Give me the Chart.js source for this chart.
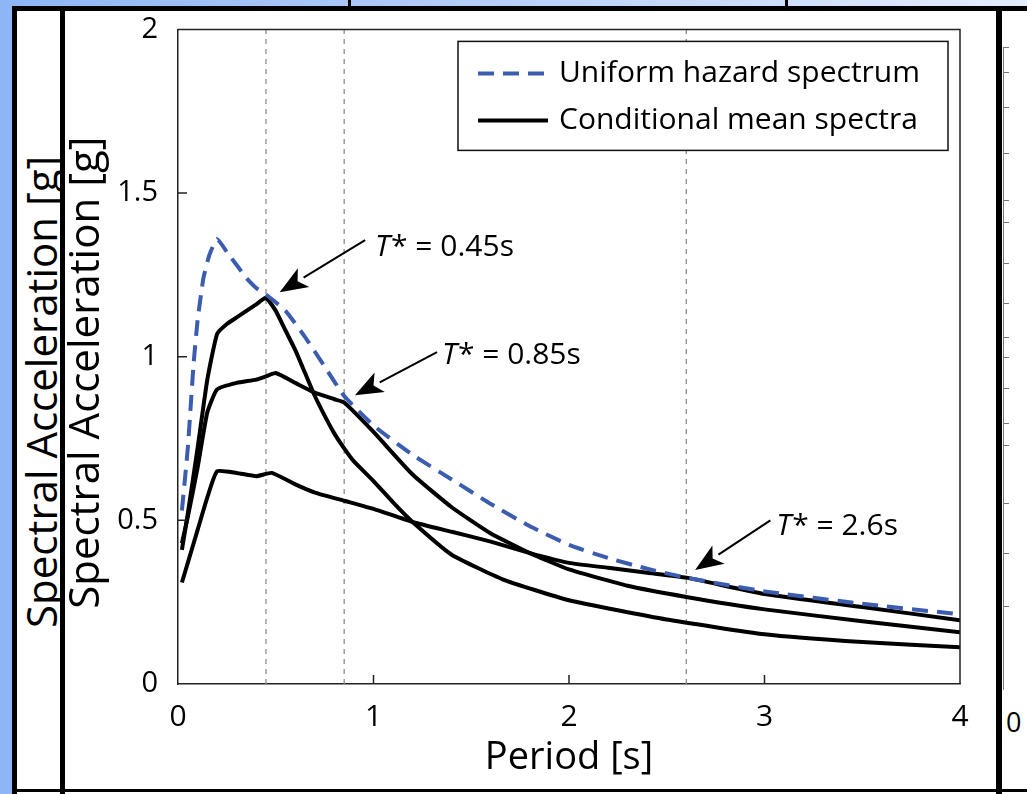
<!DOCTYPE html>
<html>
<head>
<meta charset="utf-8">
<script src="https://cdn.jsdelivr.net/npm/chart.js@4.4.1/dist/chart.umd.min.js"></script>
<style>
  body { margin: 0; width: 1027px; height: 794px; position: relative; overflow: hidden;
         background: linear-gradient(to right, #8db6f7 0%, #b4cdf9 45%, #e4edfc 100%);
         font-family: "Open Sans", sans-serif; }
  .blk { position: absolute; background: #000; }
  #panel { position: absolute; left: 12px; top: 8px; right: 0; bottom: 0; background: #fff; }
  #ghost { position: absolute; left: 17px; top: 11px; width: 43px; height: 778px; overflow: hidden; }
  #ghost span { position: absolute; left: 3px; top: 617px; white-space: nowrap; font-size: 42px;
                line-height: 1; transform-origin: 0 0; transform: rotate(-90deg); color: #000; }
  #nextAxis { position: absolute; left: 1003px; top: 47px; width: 1px; height: 643px; background: #777; }
  .tk { position: absolute; left: 1004px; width: 5px; height: 1px; background: #777; }
  #nextZero { position: absolute; left: 1006px; top: 703px; font-size: 27px; color: #000; }
  canvas { position: absolute; left: 0; top: 0; }
</style>
</head>
<body>
<div id="panel"></div>
<div class="blk" style="left:12px;top:6px;width:1015px;height:5px"></div>
<div class="blk" style="left:12px;top:6px;width:5px;height:788px"></div>
<div class="blk" style="left:60px;top:6px;width:5px;height:788px"></div>
<div class="blk" style="left:996px;top:6px;width:6px;height:788px"></div>
<div class="blk" style="left:12px;top:789px;width:1015px;height:3px"></div>
<div class="blk" style="left:348px;top:0;width:3px;height:6px"></div>
<div class="blk" style="left:785px;top:0;width:3px;height:6px"></div>
<div id="ghost"><span>Spectral Acceleration [g]</span></div>
<div id="nextAxis"></div>
<div class="tk" style="top:47px"></div><div class="tk" style="top:72px"></div>
<div class="tk" style="top:107px"></div><div class="tk" style="top:153px"></div>
<div class="tk" style="top:200px"></div><div class="tk" style="top:222px"></div>
<div class="tk" style="top:263px"></div><div class="tk" style="top:303px"></div>
<div class="tk" style="top:337px"></div><div class="tk" style="top:357px"></div>
<div class="tk" style="top:388px"></div><div class="tk" style="top:423px"></div>
<div class="tk" style="top:445px"></div><div class="tk" style="top:503px"></div>
<div class="tk" style="top:553px"></div><div class="tk" style="top:606px"></div>
<div id="nextZero">0</div>
<canvas id="spectraChart" width="1027" height="794"></canvas>
<script>
// values (period in s, Sa in g)
const uhsPeriod = [0.02, 0.05, 0.08, 0.1, 0.13, 0.16, 0.2, 0.25, 0.3, 0.35, 0.4, 0.45, 0.55, 0.65, 0.75, 0.85, 1.0, 1.2, 1.4, 1.6, 1.8, 2.0, 2.2, 2.4, 2.6, 3.0, 3.5, 4.0];
const uhsSa     = [0.53, 0.72, 0.98, 1.11, 1.24, 1.31, 1.36, 1.32, 1.28, 1.24, 1.21, 1.19, 1.14, 1.06, 0.97, 0.88, 0.79, 0.70, 0.625, 0.55, 0.482, 0.425, 0.385, 0.352, 0.325, 0.283, 0.245, 0.213];

const cms045Period = [0.02, 0.05, 0.1, 0.15, 0.2, 0.25, 0.3, 0.35, 0.4, 0.45, 0.5, 0.55, 0.6, 0.65, 0.7, 0.75, 0.8, 0.85, 0.9, 1.0, 1.1, 1.2, 1.4, 1.66, 2.0, 2.5, 3.0, 3.5, 4.0];
const cms045Sa     = [0.41, 0.52, 0.72, 0.93, 1.07, 1.10, 1.12, 1.14, 1.16, 1.18, 1.14, 1.08, 1.02, 0.95, 0.88, 0.82, 0.765, 0.72, 0.68, 0.62, 0.555, 0.495, 0.395, 0.32, 0.256, 0.197, 0.152, 0.128, 0.112];

const cms085Period = [0.02, 0.05, 0.1, 0.15, 0.2, 0.3, 0.4, 0.45, 0.5, 0.6, 0.7, 0.8, 0.85, 1.0, 1.2, 1.4, 1.6, 1.8, 2.0, 2.3, 2.6, 3.0, 3.5, 4.0];
const cms085Sa     = [0.43, 0.51, 0.66, 0.83, 0.90, 0.92, 0.93, 0.94, 0.95, 0.92, 0.89, 0.87, 0.86, 0.77, 0.64, 0.54, 0.46, 0.40, 0.35, 0.30, 0.266, 0.228, 0.192, 0.158];

const cms26Period = [0.02, 0.05, 0.1, 0.15, 0.2, 0.3, 0.4, 0.48, 0.6, 0.7, 0.85, 1.0, 1.2, 1.4, 1.6, 1.8, 2.0, 2.2, 2.4, 2.6, 3.0, 3.5, 4.0];
const cms26Sa     = [0.31, 0.37, 0.47, 0.57, 0.65, 0.645, 0.635, 0.645, 0.61, 0.585, 0.56, 0.535, 0.495, 0.465, 0.435, 0.40, 0.37, 0.355, 0.34, 0.325, 0.275, 0.235, 0.195];

const targetPeriods = [0.45, 0.85, 2.6];
const targetLabels = ['0.45s', '0.85s', '2.6s'];
const seriesNames = ['Uniform hazard spectrum', 'Conditional mean spectra'];
const xTicks = [0, 1, 2, 3, 4];
const yTicks = [0, 0.5, 1, 1.5, 2];
const yTitle = 'Spectral Acceleration [g]';

// arrow callouts, in data units (tip, tail, text anchor)
const callouts = [
  { tip: [0.52, 1.197], tail: [0.957, 1.356], text: [1.008, 1.334] },
  { tip: [0.905, 0.882], tail: [1.325, 1.014], text: [1.35, 1.005] },
  { tip: [2.645, 0.348], tail: [3.03, 0.50], text: [3.06, 0.48] }
];

const toPoints = (xs, ys) => xs.map((x, i) => ({ x: x, y: ys[i] }));
const BLUE = '#3c5cb0';
const FONT = '"Open Sans", sans-serif';

const curveStyle = { borderColor: '#000', borderWidth: 4, pointRadius: 0, tension: 0.15, fill: false };

const datasets = [
  { label: seriesNames[0], data: toPoints(uhsPeriod, uhsSa), borderColor: BLUE, borderWidth: 4,
    borderDash: [16, 9], pointRadius: 0, tension: 0.15, fill: false },
  Object.assign({ label: seriesNames[1], data: toPoints(cms045Period, cms045Sa) }, curveStyle),
  Object.assign({ label: seriesNames[1], data: toPoints(cms085Period, cms085Sa) }, curveStyle),
  Object.assign({ label: seriesNames[1], data: toPoints(cms26Period, cms26Sa) }, curveStyle)
];
targetPeriods.forEach(function (t) {
  datasets.push({ label: 'T*', data: [{ x: t, y: yTicks[0] }, { x: t, y: yTicks[yTicks.length - 1] }],
    borderColor: '#8c8c8c', borderWidth: 1.3, borderDash: [5, 5], pointRadius: 0, fill: false });
});

// box around the plot, inward tick marks and the y title
const framePlugin = {
  id: 'framePlugin',
  afterDraw(chart) {
    const { ctx, chartArea: a, scales } = chart;
    ctx.save();
    ctx.strokeStyle = '#222';
    ctx.lineWidth = 1.5;
    ctx.beginPath();
    ctx.moveTo(a.left, a.top); ctx.lineTo(a.right, a.top); ctx.lineTo(a.right, a.bottom);
    xTicks.slice(1, -1).forEach(v => {
      const px = scales.x.getPixelForValue(v);
      ctx.moveTo(px, a.bottom); ctx.lineTo(px, a.bottom - 9);
    });
    yTicks.slice(1, -1).forEach(v => {
      const py = scales.y.getPixelForValue(v);
      ctx.moveTo(a.left, py); ctx.lineTo(a.left + 9, py);
    });
    ctx.stroke();

    // y axis title, a little below the plot centre as in the figure
    ctx.translate(a.left - 79, (a.top + a.bottom) / 2 + 16);
    ctx.rotate(-Math.PI / 2);
    ctx.fillStyle = '#000';
    ctx.font = '42px ' + FONT;
    ctx.textAlign = 'center';
    ctx.textBaseline = 'alphabetic';
    ctx.fillText(yTitle, 0, 0);
    ctx.restore();
  }
};

// T* arrows and labels
const calloutPlugin = {
  id: 'calloutPlugin',
  afterDatasetsDraw(chart) {
    const { ctx, scales: { x, y } } = chart;
    ctx.save();
    callouts.forEach((c, i) => {
      const tx = x.getPixelForValue(c.tip[0]), ty = y.getPixelForValue(c.tip[1]);
      const sx = x.getPixelForValue(c.tail[0]), sy = y.getPixelForValue(c.tail[1]);
      const ang = Math.atan2(ty - sy, tx - sx);
      const headLen = 28, headW = 11;
      const bx = tx - headLen * Math.cos(ang), by = ty - headLen * Math.sin(ang);
      ctx.strokeStyle = '#000'; ctx.fillStyle = '#000'; ctx.lineWidth = 2;
      ctx.beginPath(); ctx.moveTo(sx, sy); ctx.lineTo(bx, by); ctx.stroke();
      ctx.beginPath();
      ctx.moveTo(tx, ty);
      ctx.lineTo(bx + headW * Math.sin(ang), by - headW * Math.cos(ang));
      ctx.lineTo(tx - (headLen - 7) * Math.cos(ang), ty - (headLen - 7) * Math.sin(ang));
      ctx.lineTo(bx - headW * Math.sin(ang), by + headW * Math.cos(ang));
      ctx.closePath(); ctx.fill();

      const lx = x.getPixelForValue(c.text[0]), ly = y.getPixelForValue(c.text[1]);
      ctx.textBaseline = 'middle'; ctx.textAlign = 'left';
      ctx.font = 'italic 30px ' + FONT;
      ctx.fillText('T', lx, ly);
      const w = ctx.measureText('T').width;
      ctx.font = '30px ' + FONT;
      ctx.fillText('* = ' + targetLabels[i], lx + w + 1, ly);
    });
    ctx.restore();
  }
};

// boxed legend in the upper right of the plot
const legendPlugin = {
  id: 'legendPlugin',
  afterDraw(chart) {
    const { ctx, chartArea: a } = chart;
    const right = a.right - 12, top = a.top + 12, w = 490, h = 109;
    const left = right - w;
    ctx.save();
    ctx.fillStyle = '#fff';
    ctx.fillRect(left, top, w, h);
    ctx.strokeStyle = '#111'; ctx.lineWidth = 1.5;
    ctx.strokeRect(left, top, w, h);
    const rows = [top + 32, top + 79];
    const sampleStyles = [chart.data.datasets[0], chart.data.datasets[1]];
    sampleStyles.forEach((ds, i) => {
      ctx.beginPath();
      ctx.strokeStyle = ds.borderColor; ctx.lineWidth = 4;
      ctx.setLineDash(ds.borderDash || []);
      ctx.moveTo(left + 20, rows[i]); ctx.lineTo(left + 90, rows[i]);
      ctx.stroke();
      ctx.setLineDash([]);
      ctx.fillStyle = '#000';
      ctx.font = '30px ' + FONT;
      ctx.textBaseline = 'middle';
      ctx.fillText(seriesNames[i], left + 101, rows[i]);
    });
    ctx.restore();
  }
};

const ctx = document.getElementById('spectraChart').getContext('2d');
const spectraChart = new Chart(ctx, {
  type: 'line',
  data: { datasets: datasets },
  options: {
    responsive: false,
    animation: false,
    devicePixelRatio: 1,
    layout: { padding: { left: 60, top: 29, right: 67, bottom: 0 } },
    plugins: { legend: { display: false }, tooltip: { enabled: false } },
    scales: {
      x: {
        type: 'linear', min: 0, max: 4,
        afterBuildTicks: s => { s.ticks = xTicks.map(v => ({ value: v })); },
        afterFit: s => { s.height = 110; },
        grid: { display: false },
        border: { display: true, color: '#222', width: 1.5 },
        ticks: { color: '#000', font: { family: FONT, size: 30 }, padding: 7, maxRotation: 0,
                 callback: v => String(v) },
        title: { display: true, text: 'Period [s]', color: '#000',
                 font: { family: FONT, size: 38 }, padding: { top: 0, bottom: 13 } }
      },
      y: {
        type: 'linear', min: 0, max: 2,
        afterBuildTicks: s => { s.ticks = yTicks.map(v => ({ value: v })); },
        afterFit: s => { s.width = 118; },
        grid: { display: false },
        border: { display: true, color: '#222', width: 1.5 },
        ticks: { color: '#000', font: { family: FONT, size: 29 }, padding: 12,
                 callback: v => String(v) },
        title: { display: false }
      }
    }
  },
  plugins: [framePlugin, calloutPlugin, legendPlugin]
});
</script>
</body>
</html>
